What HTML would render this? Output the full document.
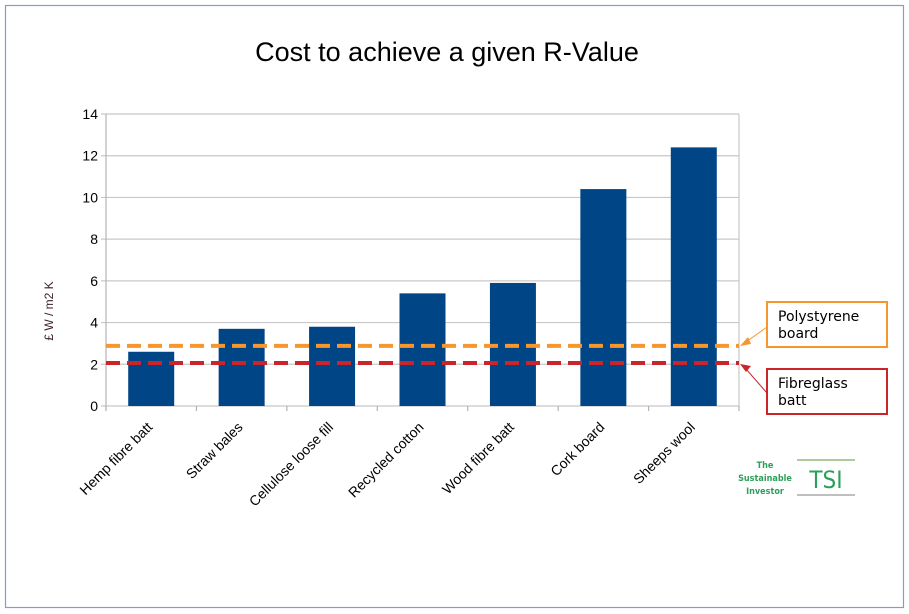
<!DOCTYPE html>
<html><head><meta charset="utf-8"><style>
body{margin:0;background:#fff;}
svg{display:block;font-family:"Liberation Sans",sans-serif;}
</style></head><body>
<svg id="chart" width="909" height="614">
<rect x="5.5" y="5.5" width="898" height="602" fill="#fff" stroke="#7d9fd0" stroke-width="1.2"/>
<text x="447" y="61" font-size="27" text-anchor="middle" fill="#000">Cost to achieve a given R-Value</text>
<text transform="translate(53,311) rotate(-90)" font-size="12" text-anchor="middle" fill="#3a1d2a">£ W / m2 K</text>
<g id="grid"></g><g id="bars"></g><g id="refs"></g><g id="axes"></g>
<g font-family="DejaVu Sans, sans-serif">
<rect x="767" y="302" width="120" height="45" fill="#fff" stroke="#f7962d" stroke-width="2"/>
<text x="778" y="321" font-size="14" fill="#000">Polystyrene</text>
<text x="778" y="338" font-size="14" fill="#000">board</text>
<line x1="767" y1="327" x2="746" y2="342" stroke="#f7962d" stroke-width="1"/>
<polygon points="740,346 748,337 751,344" fill="#f7962d"/>
</g>
<g font-family="DejaVu Sans, sans-serif">
<rect x="767" y="369" width="120" height="45" fill="#fff" stroke="#c9252a" stroke-width="2"/>
<text x="778" y="388" font-size="14" fill="#000">Fibreglass</text>
<text x="778" y="405" font-size="14" fill="#000">batt</text>
<line x1="767" y1="393" x2="746" y2="369" stroke="#c9252a" stroke-width="1"/>
<polygon points="740,364 751,366 746,372" fill="#c9252a"/>
</g>
<g font-family="DejaVu Sans Condensed, DejaVu Sans, sans-serif">
<text x="765" y="468" font-size="9" font-weight="bold" fill="#2ca05a" text-anchor="middle">The</text>
<text x="765" y="481" font-size="9" font-weight="bold" fill="#2ca05a" text-anchor="middle">Sustainable</text>
<text x="765" y="494" font-size="9" font-weight="bold" fill="#2ca05a" text-anchor="middle">Investor</text>
<line x1="797" y1="460" x2="855" y2="460" stroke="#7aad63" stroke-width="1.2"/>
<line x1="797" y1="495" x2="855" y2="495" stroke="#999" stroke-width="1.2"/>
<text x="826" y="488" font-size="24" fill="#2ca05a" text-anchor="middle">TSI</text>
</g>
</svg>
<script>
const categories=["Hemp fibre batt","Straw bales","Cellulose loose fill","Recycled cotton","Wood fibre batt","Cork board","Sheeps wool"];
const values=[2.6,3.7,3.8,5.4,5.9,10.4,12.4];
const refValues=[2.88,2.06];
const refNames=["polystyrene-line","fibreglass-line"];
const refColors=["#f7962d","#c9252a"];
const yTicks=[0,2,4,6,8,10,12,14];
const NS="http://www.w3.org/2000/svg";
const X0=106,X1=739,Y0=406,Y1=114,YMAX=14;
const band=(X1-X0)/categories.length;
const y=v=>Y0-(v/YMAX)*(Y0-Y1);
const xc=i=>X0+band*(i+0.5);
function mk(t,a,p){const e=document.createElementNS(NS,t);for(const k in a)e.setAttribute(k,a[k]);document.getElementById(p).appendChild(e);return e;}
yTicks.forEach(t=>{
 const l=mk('line',{x1:X0-5,x2:X1,y1:y(t),y2:y(t),stroke:'#c8c8c8','stroke-width':1.2},'grid');
 
 
 const tx=mk('text',{x:X0-8,y:y(t)+5,'font-size':14,'text-anchor':'end',fill:'#000'},'axes');
 tx.textContent=t;
 
 
});
mk('line',{x1:X0,x2:X0,y1:Y1,y2:Y0+5,stroke:'#b3b3b3','stroke-width':1.2},'grid');
mk('line',{x1:X1,x2:X1,y1:Y1,y2:Y0,stroke:'#c8c8c8','stroke-width':1.2},'grid');
for(let i=0;i<=categories.length;i++)mk('line',{x1:X0+band*i,x2:X0+band*i,y1:Y0,y2:Y0+5,stroke:'#b3b3b3','stroke-width':1.2},'grid');
const bw=46;
values.forEach((v,i)=>{
 const r=mk('rect',{x:xc(i)-bw/2,y:y(v),width:bw,height:Y0-y(v),fill:'#004586'},'bars');
 
 
 const cx=xc(i)+2,cy=Y0+22;
 const t=mk('text',{x:cx,y:cy,'font-size':14,'text-anchor':'end',fill:'#000',transform:`rotate(-45 ${cx} ${cy})`},'axes');
 t.textContent=categories[i];
 
 
});
refValues.forEach((v,i)=>{
 const l=mk('line',{x1:X0,x2:X1,y1:y(v),y2:y(v),stroke:refColors[i],'stroke-width':4,'stroke-dasharray':'14 7'},'refs');
 
 
});
</script>
</body></html>
